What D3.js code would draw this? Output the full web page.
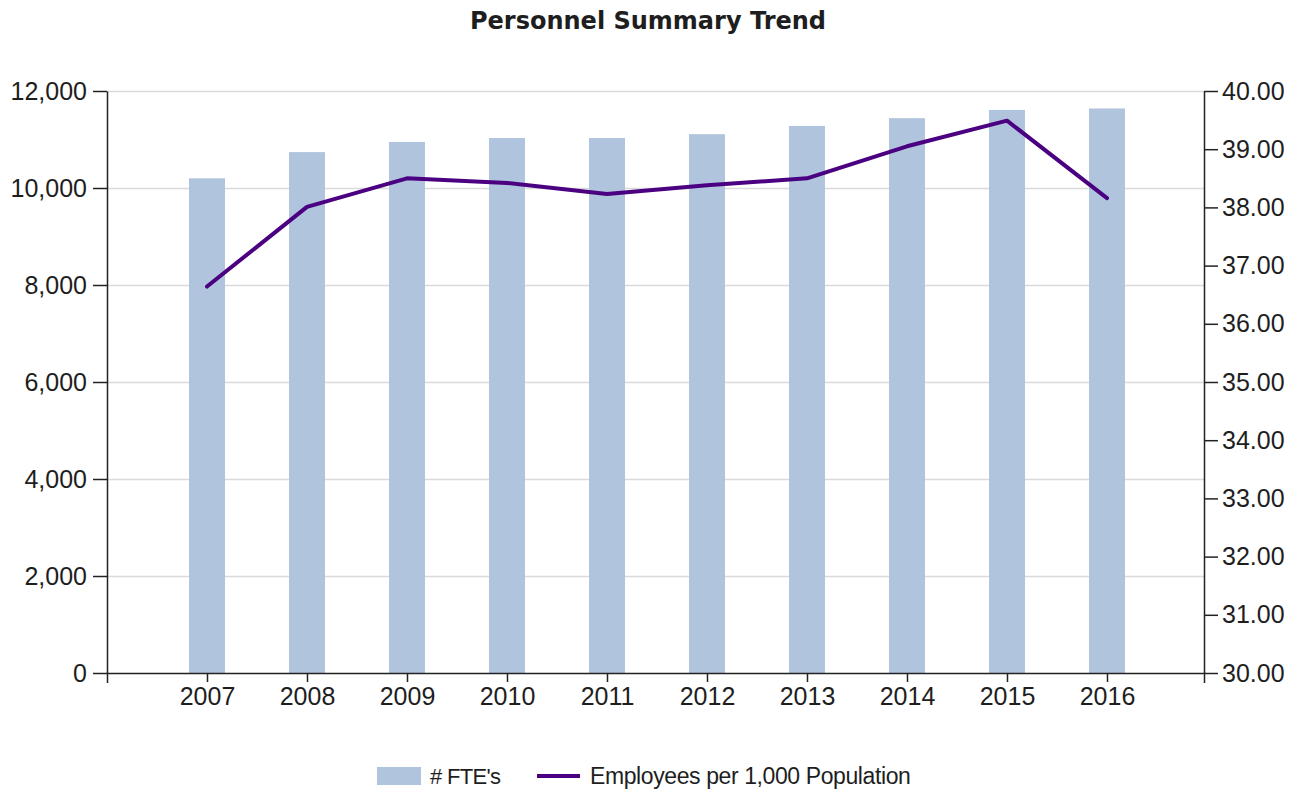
<!DOCTYPE html>
<html>
<head>
<meta charset="utf-8">
<script src="https://cdn.jsdelivr.net/npm/d3@7"></script>
<style>
  body { margin: 0; background: #fff; }
  text { font-family: "Liberation Sans", Arial, sans-serif; fill: #1e1e1e; }
</style>
</head>
<body>
<div id="chart"></div>
<script>
// data
const years = [2007, 2008, 2009, 2010, 2011, 2012, 2013, 2014, 2015, 2016]
const ftes = [10200, 10740, 10950, 11030, 11030, 11110, 11280, 11440, 11610, 11640]
const perThousand = [36.64, 38.01, 38.50, 38.42, 38.23, 38.38, 38.50, 39.05, 39.49, 38.16]
const leftTicks = [0, 2000, 4000, 6000, 8000, 10000, 12000]
const rightTicks = [30, 31, 32, 33, 34, 35, 36, 37, 38, 39, 40]

const width = 1299, height = 792
const plotLeft = 107, plotRight = 1204, plotTop = 91, plotBottom = 673

const svg = d3.select('#chart').append('svg')
  .attr('width', width)
  .attr('height', height)

// scales
const x = d3.scalePoint().domain(years).range([207, 1107])
const frame = d3.scaleLinear().domain([0, 1]).range([plotLeft, plotRight])
const y = d3.scaleLinear().domain([0, 12000]).range([plotBottom, plotTop])
const y2 = d3.scaleLinear().domain([30, 40]).range([plotBottom, plotTop])

// gridlines
svg.append('g')
  .selectAll('line')
  .data(leftTicks.slice(1))
  .join('line')
  .attr('x1', plotLeft).attr('x2', plotRight)
  .attr('y1', d => y(d) + 0.5).attr('y2', d => y(d) + 0.5)
  .attr('stroke', '#dadada')
  .attr('stroke-width', 1.5)

// bars
const barW = 36
svg.append('g')
  .selectAll('rect')
  .data(ftes)
  .join('rect')
  .attr('x', (d, i) => x(years[i]) - barW / 2)
  .attr('y', d => y(d))
  .attr('width', barW)
  .attr('height', d => plotBottom - y(d))
  .attr('fill', '#b0c4de')

// line
const line = d3.line()
  .x((d, i) => x(years[i]))
  .y(d => y2(d))
svg.append('path')
  .datum(perThousand)
  .attr('d', line)
  .attr('fill', 'none')
  .attr('stroke', '#4b0082')
  .attr('stroke-width', 4)
  .attr('stroke-linejoin', 'round')
  .attr('stroke-linecap', 'round')

// axes
const styleAxis = g => {
  g.selectAll('path, line').attr('stroke', '#222').attr('stroke-width', 1.5)
  g.selectAll('text').attr('font-size', 25).attr('fill', '#1e1e1e')
  g.attr('font-family', null)
}

svg.append('g')
  .attr('transform', `translate(0,${plotBottom})`)
  .call(d3.axisBottom(frame).tickValues([]).tickSizeOuter(10))
  .call(styleAxis)

svg.append('g')
  .attr('transform', `translate(0,${plotBottom})`)
  .call(d3.axisBottom(x).tickSize(9).tickSizeOuter(0).tickPadding(5))
  .call(g => g.select('.domain').remove())
  .call(styleAxis)

svg.append('g')
  .attr('transform', `translate(${plotLeft},0)`)
  .call(d3.axisLeft(y).tickValues(leftTicks).tickSize(14).tickSizeOuter(0).tickPadding(6).tickFormat(d3.format(',')))
  .call(styleAxis)

svg.append('g')
  .attr('transform', `translate(${plotRight},0)`)
  .call(d3.axisRight(y2).tickValues(rightTicks).tickSize(14).tickSizeOuter(0).tickPadding(4).tickFormat(d3.format('.2f')))
  .call(styleAxis)

// title
svg.append('text')
  .attr('x', 648)
  .attr('y', 29)
  .attr('text-anchor', 'middle')
  .style('font-family', '"DejaVu Sans", Verdana, sans-serif')
  .attr('font-weight', 'bold')
  .attr('font-size', 24)
  .attr('fill', '#000')
  .text('Personnel Summary Trend')

// legend
const legend = svg.append('g').attr('transform', 'translate(0,776)')
legend.append('rect')
  .attr('x', 377).attr('y', -9)
  .attr('width', 44).attr('height', 18)
  .attr('fill', '#b0c4de')
legend.append('text')
  .attr('x', 430).attr('y', 8)
  .attr('font-size', 22)
  .attr('letter-spacing', -0.7)
  .text("# FTE's")
legend.append('line')
  .attr('x1', 537).attr('x2', 580)
  .attr('y1', 0).attr('y2', 0)
  .attr('stroke', '#4b0082')
  .attr('stroke-width', 4)
legend.append('text')
  .attr('x', 590).attr('y', 8)
  .attr('font-size', 23)
  .attr('letter-spacing', -0.4)
  .text('Employees per 1,000 Population')
</script>
</body>
</html>
